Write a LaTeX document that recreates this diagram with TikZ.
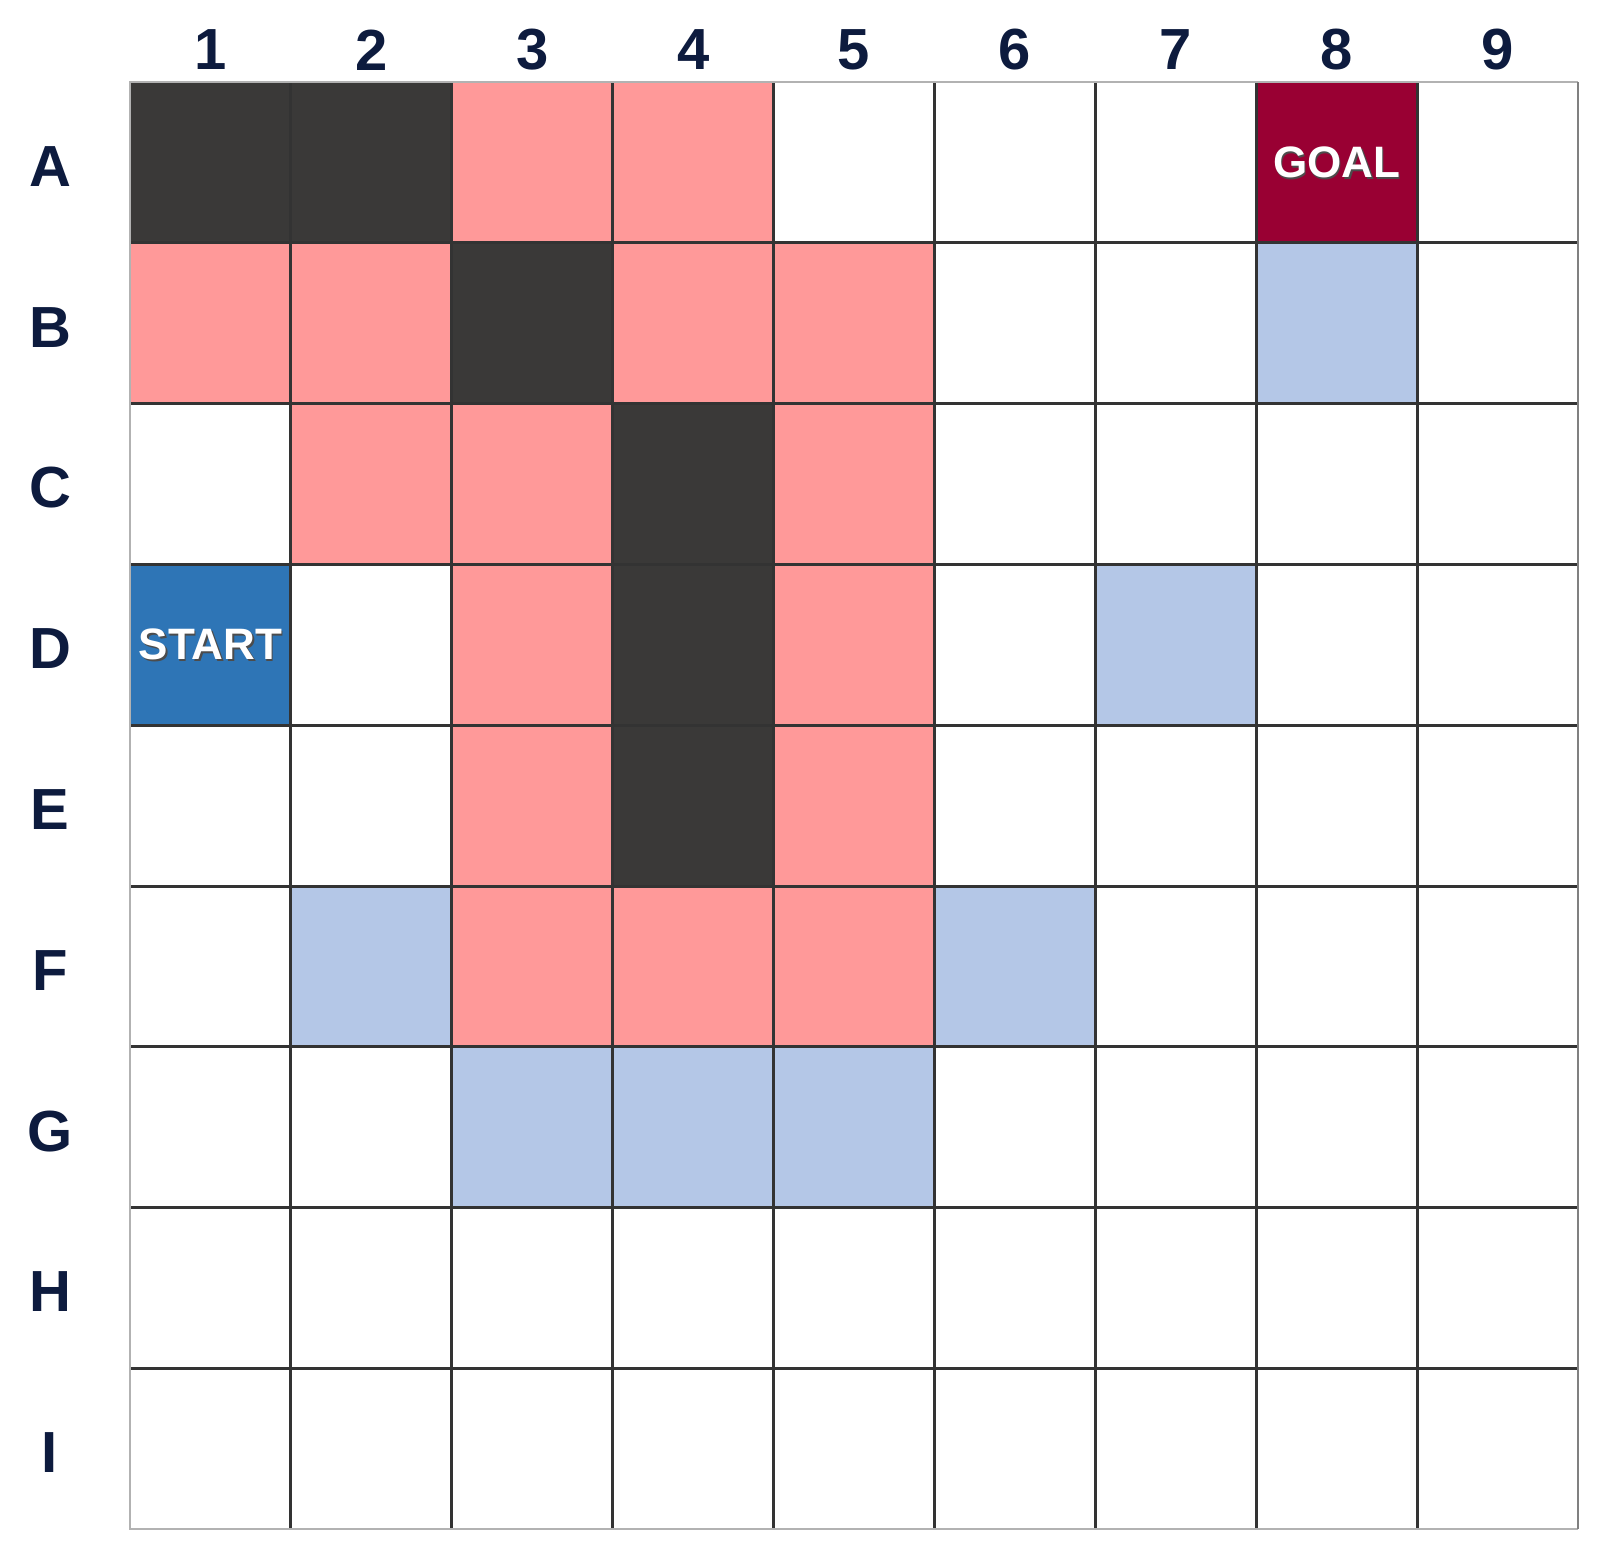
\documentclass[tikz,border=0pt]{standalone}
\usepackage{fontspec}
\setmainfont{Liberation Sans}
\definecolor{wall}{HTML}{3A3938}
\definecolor{pinkc}{HTML}{FF9999}
\definecolor{lblue}{HTML}{B4C7E7}
\definecolor{startc}{HTML}{2E75B6}
\definecolor{goalc}{HTML}{990033}
\definecolor{navy}{HTML}{0D1B3E}
\definecolor{gline}{HTML}{333333}
\begin{document}
\begin{tikzpicture}[x=1pt,y=-1pt,
  cell/.style={rectangle,draw=none,minimum width=160.9pt,minimum height=160.8pt,inner sep=0pt,anchor=center},
  lab/.style={font=\fontsize{58}{60}\selectfont\bfseries,text=navy,inner sep=0pt},
  celltext/.style={font=\fontsize{44}{46}\selectfont\bfseries,text=white,inner sep=0pt},
  shadowtext/.style={font=\fontsize{44}{46}\selectfont\bfseries,text=black!70,inner sep=0pt}]
\useasboundingbox[fill=white] (0,0) rectangle (1606,1563);
\def\X{130}\def\Y{82}\def\W{160.9}\def\H{160.8}
% cells: \cellfill{col}{row}{color}{name}
\newcommand{\cellfill}[4]{%
  \node[cell,fill=#3] (#4) at ({\X+(#1-0.5)*\W},{\Y+(#2-0.5)*\H}) {};}
% Row A (1)
\cellfill{1}{1}{wall}{a1}\cellfill{2}{1}{wall}{a2}
\cellfill{3}{1}{pinkc}{a3}\cellfill{4}{1}{pinkc}{a4}
\cellfill{8}{1}{goalc}{a8}
% Row B
\cellfill{1}{2}{pinkc}{b1}\cellfill{2}{2}{pinkc}{b2}
\cellfill{3}{2}{wall}{b3}\cellfill{4}{2}{pinkc}{b4}\cellfill{5}{2}{pinkc}{b5}
\cellfill{8}{2}{lblue}{b8}
% Row C
\cellfill{2}{3}{pinkc}{c2}\cellfill{3}{3}{pinkc}{c3}
\cellfill{4}{3}{wall}{c4}\cellfill{5}{3}{pinkc}{c5}
% Row D
\cellfill{1}{4}{startc}{d1}\cellfill{3}{4}{pinkc}{d3}
\cellfill{4}{4}{wall}{d4}\cellfill{5}{4}{pinkc}{d5}
\cellfill{7}{4}{lblue}{d7}
% Row E
\cellfill{3}{5}{pinkc}{e3}\cellfill{4}{5}{wall}{e4}\cellfill{5}{5}{pinkc}{e5}
% Row F
\cellfill{2}{6}{lblue}{f2}\cellfill{3}{6}{pinkc}{f3}\cellfill{4}{6}{pinkc}{f4}
\cellfill{5}{6}{pinkc}{f5}\cellfill{6}{6}{lblue}{f6}
% Row G
\cellfill{3}{7}{lblue}{g3}\cellfill{4}{7}{lblue}{g4}\cellfill{5}{7}{lblue}{g5}
% interior grid lines
\foreach \i in {1,...,8}{
  \draw[gline,line width=3pt] ({\X+\i*\W},\Y) -- ({\X+\i*\W},{\Y+9*\H});
  \draw[gline,line width=3pt] (\X,{\Y+\i*\H}) -- ({\X+9*\W},{\Y+\i*\H});
}
% outer border
\draw[black!30,line width=2pt] ({\X+9*\W},\Y) -- (\X,\Y) -- (\X,{\Y+9*\H}) -- ({\X+9*\W},{\Y+9*\H});
\draw[black!50,line width=2.5pt] ({\X+9*\W},\Y) -- ({\X+9*\W},{\Y+9*\H});
% START / GOAL
\node[shadowtext] (startsh) at ([shift={(1.5pt,-1.5pt)}]d1.center) {START};
\node[celltext] (start) at (d1.center) {START};
\node[shadowtext] (goalsh) at ([shift={(1.5pt,-1.5pt)}]a8.center) {GOAL};
\node[celltext] (goal) at (a8.center) {GOAL};
% column labels
\foreach \c in {1,...,9}{
  \node[lab] (col\c) at ({\X+(\c-0.5)*\W},50) {\c};
}
% row labels
\foreach \r/\l in {1/A,2/B,3/C,4/D,5/E,6/F,7/G,8/H,9/I}{
  \node[lab] (row\l) at (50,{\Y+(\r-0.5)*\H+4}) {\l};
}
\end{tikzpicture}
\end{document}
